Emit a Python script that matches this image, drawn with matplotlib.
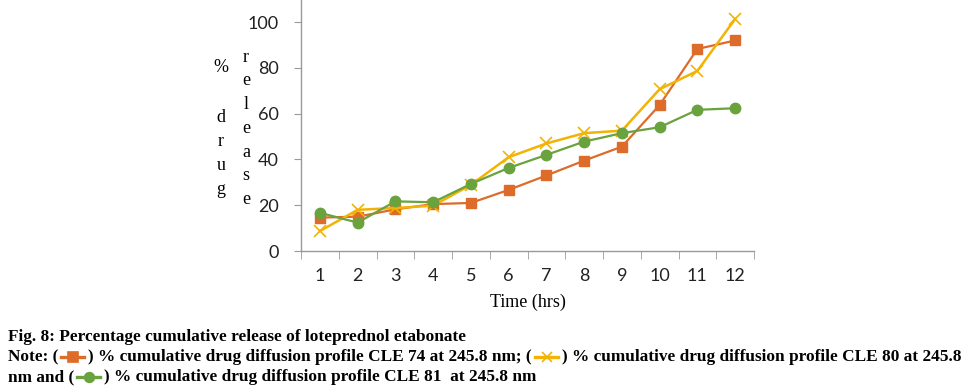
import numpy as np
import matplotlib
matplotlib.use("Agg")
import matplotlib.pyplot as plt
from matplotlib.lines import Line2D

# data
hours = [1, 2, 3, 4, 5, 6, 7, 8, 9, 10, 11, 12]
cle74 = [14.6, 15.0, 18.2, 20.5, 21.0, 26.7, 33.0, 39.5, 45.6, 63.8, 88.3, 92.0]
cle80 = [8.7, 18.0, 18.8, 19.8, 28.9, 41.0, 47.0, 51.5, 52.6, 70.7, 78.7, 101.4]
cle81 = [16.7, 12.4, 21.7, 21.3, 29.3, 36.3, 42.0, 47.8, 51.5, 54.1, 61.7, 62.4]
yticks = [0, 20, 40, 60, 80, 100]

c_or = '#DD6B2A'
c_ye = '#F2B305'
c_gr = '#6AA23E'

fig = plt.figure(figsize=(9.76, 3.88), dpi=100)
ax = fig.add_axes([301/976, 1-251/388, 453/976, 251/388])

x = np.arange(len(hours))
ax.plot(x, cle74, color=c_or, lw=1.6, marker='s', ms=7)
ax.plot(x, cle80, color=c_ye, lw=1.8, marker='x', ms=9, mew=1.2)
ax.plot(x, cle81, color=c_gr, lw=1.6, marker='o', ms=7.5)

ax.set_xlim(-0.5, len(hours) - 0.5)
ax.set_ylim(0, 109.7)
ax.set_yticks(yticks)
ax.set_xticks(x)
ax.set_xticklabels([str(h) for h in hours])
ax.set_xticks(np.arange(-0.5, len(hours)), minor=True)
ax.tick_params(axis='x', which='major', length=0, pad=12, labelsize=13, labelcolor='#222')
ax.tick_params(axis='x', which='minor', length=6, color='#999', direction='out')
ax.tick_params(axis='y', length=5, color='#999', labelsize=13, labelcolor='#222', pad=11)
for s in ['top', 'right']:
    ax.spines[s].set_visible(False)
for s in ['left', 'bottom']:
    ax.spines[s].set_color('#999')
    ax.spines[s].set_linewidth(1.0)
for lab in ax.get_yticklabels() + ax.get_xticklabels():
    lab.set_family('Lato')

serif = 'Liberation Serif'
ax.set_xlabel('Time (hrs)', family=serif, fontsize=13, labelpad=7)

# stacked y label
fig.text(221/976, 1-67/388, '%', family=serif, fontsize=13, ha='center', va='center')
for i, ch in enumerate('drug'):
    fig.text(221/976, 1-(117 + i*24)/388, ch, family=serif, fontsize=13, ha='center', va='center')
for i, ch in enumerate('release'):
    fig.text(246/976, 1-(57 + i*23.8)/388, ch, family=serif, fontsize=13, ha='center', va='center')

# caption
cap = dict(family=serif, fontsize=12.4, fontweight='bold', va='baseline')
fig.text(8/976, 1-341/388, 'Fig. 8: Percentage cumulative release of loteprednol etabonate', **cap)

renderer = fig.canvas.get_renderer()

def put_line(y, parts):
    xpos = 8
    for p in parts:
        if isinstance(p, str):
            t = fig.text(xpos/976, 1-y/388, p, **cap)
            bb = t.get_window_extent(renderer)
            xpos += bb.width
        else:
            col, mk = p
            w = 26
            yy = 1-(y-4.5)/388
            fig.add_artist(Line2D([(xpos+3)/976, (xpos+w)/976], [yy, yy], color=col, lw=2.4,
                                  transform=fig.transFigure))
            fig.add_artist(Line2D([(xpos+3+w/2-1)/976], [yy], color=col, marker=mk, ms=7, mew=1.2,
                                  lw=0, transform=fig.transFigure))
            xpos += w + 4

put_line(361, ['Note: (', (c_or, 's'), ') % cumulative drug diffusion profile CLE 74 at 245.8 nm; (',
               (c_ye, 'x'), ') % cumulative drug diffusion profile CLE 80 at 245.8'])
put_line(381, ['nm and (', (c_gr, 'o'), ') % cumulative drug diffusion profile CLE 81  at 245.8 nm'])

fig.savefig('out.png', dpi=100)
